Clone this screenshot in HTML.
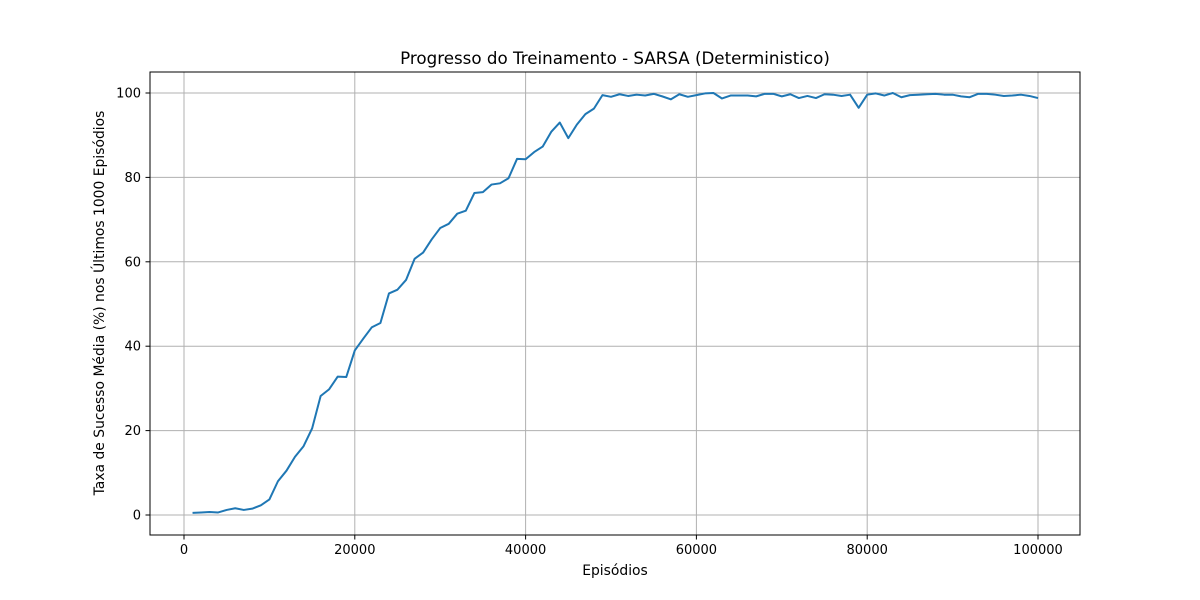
<!DOCTYPE html>
<html><head><meta charset="utf-8"><style>
body{margin:0;background:#fff}
svg{display:block;font-family:"DejaVu Sans","Liberation Sans",sans-serif}
</style></head><body>
<svg id="chart" width="1200" height="600">
<rect width="1200" height="600" fill="#fff"/>
<text x="615" y="64" text-anchor="middle" font-size="16.7">Progresso do Treinamento - SARSA (Deterministico)</text>
<g id="grid"></g>
<path id="line" fill="none" stroke="#1f77b4" stroke-width="2" stroke-linejoin="round"/>
<rect x="150" y="72" width="930" height="463" fill="none" stroke="#000" stroke-width="1"/>
<g id="ticks"></g>
<text x="615" y="575" text-anchor="middle" font-size="13.9">Episódios</text>
<text transform="translate(104,303) rotate(-90)" text-anchor="middle" font-size="13.9">Taxa de Sucesso Média (%) nos Últimos 1000 Episódios</text>
</svg>
<script>
const episodes=[];for(let k=1;k<=100;k++)episodes.push(k*1000);
const successRate=[0.5,0.6,0.7,0.6,1.2,1.6,1.2,1.5,2.3,3.7,8,10.5,13.8,16.3,20.5,28.2,29.8,32.8,32.7,39,41.8,44.5,45.5,52.5,53.4,55.7,60.7,62.2,65.3,68,69,71.4,72.1,76.3,76.5,78.3,78.6,79.8,84.4,84.3,86,87.3,90.8,93,89.3,92.5,95,96.3,99.5,99.1,99.7,99.3,99.6,99.4,99.8,99.2,98.5,99.7,99.1,99.5,99.9,100,98.7,99.4,99.4,99.4,99.2,99.8,99.8,99.2,99.7,98.8,99.3,98.8,99.7,99.6,99.3,99.6,96.5,99.6,99.9,99.4,100,99,99.5,99.6,99.7,99.8,99.6,99.6,99.2,99,99.8,99.8,99.6,99.3,99.4,99.6,99.3,98.8];
const xTicks=[0,20000,40000,60000,80000,100000];
const yTicks=[0,20,40,60,80,100];
const X=v=>184+(v/100000)*854;
const Y=v=>515-(v/100)*422;
const NS="http://www.w3.org/2000/svg";
const grid=document.getElementById('grid'),ticks=document.getElementById('ticks');
function mk(tag,attrs,parent){const e=document.createElementNS(NS,tag);for(const k in attrs)e.setAttribute(k,attrs[k]);parent.appendChild(e);return e;}
xTicks.forEach(t=>{
 const g=mk('line',{x1:X(t),x2:X(t),y1:72,y2:535,stroke:'#b0b0b0','stroke-width':1},grid);
 
 
 mk('line',{x1:X(t),x2:X(t),y1:535,y2:539.5,stroke:'#000'},ticks);
 const l=mk('text',{x:X(t),y:554,'text-anchor':'middle','font-size':13},ticks);l.textContent=t;
 
 
});
yTicks.forEach(t=>{
 const g=mk('line',{x1:150,x2:1080,y1:Y(t),y2:Y(t),stroke:'#b0b0b0','stroke-width':1},grid);
 
 
 mk('line',{x1:145.5,x2:150,y1:Y(t),y2:Y(t),stroke:'#000'},ticks);
 const l=mk('text',{x:141,y:Y(t)+4.5,'text-anchor':'end','font-size':13},ticks);l.textContent=t;
 
 
});
document.getElementById('line').setAttribute('d',episodes.map((e,i)=>(i?'L':'M')+X(e).toFixed(2)+','+Y(successRate[i]).toFixed(2)).join(''));
</script>
</body></html>
